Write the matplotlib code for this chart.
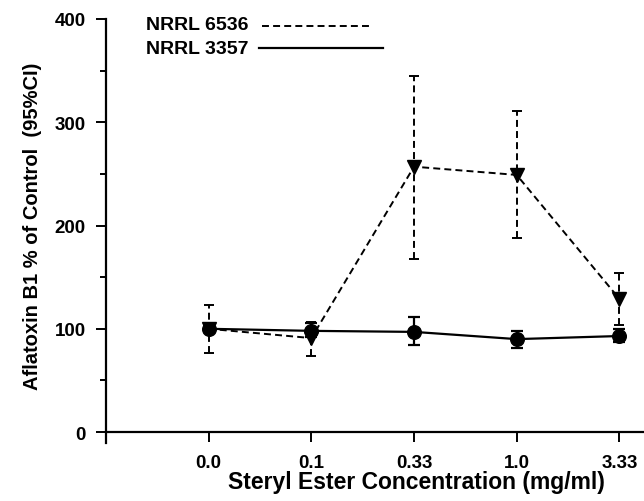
import matplotlib
matplotlib.use("Agg")
import matplotlib.pyplot as plt
from matplotlib.lines import Line2D
import numpy as np

plt.rcParams['font.family'] = ['Liberation Sans', 'DejaVu Sans']
plt.rcParams['font.weight'] = 'bold'
plt.rcParams['lines.scale_dashes'] = False

# ---- data ----
x_labels = ['0.0', '0.1', '0.33', '1.0', '3.33']
series_names = ['NRRL 6536', 'NRRL 3357']
n6536 = [100, 91, 257, 249, 129]
n6536_lo = [77, 74, 168, 188, 104]
n6536_hi = [123, 107, 345, 311, 154]
n3357 = [100, 98, 97, 90, 93]
n3357_lo = [97, 92, 84, 81, 87]
n3357_hi = [103, 106, 111, 98, 100]
y_major = [0, 100, 200, 300, 400]
y_minor = [50, 150, 250, 350]

W, H = 644, 502
fig = plt.figure(figsize=(W / 100, H / 100), dpi=100)
ax = fig.add_axes([106 / W, (H - 444) / H, (W - 106) / W, (444 - 20) / H])

xpos = np.arange(len(x_labels))
DASH = (5, 3)

def draw(vals, lo, hi, marker, dashed):
    vals = np.array(vals, float)
    yerr = np.vstack([vals - np.array(lo), np.array(hi) - vals])
    lw = 1.4 if dashed else 1.6
    line, caps, bars = ax.errorbar(
        xpos, vals, yerr=yerr, color='black', marker=marker, markersize=9.8,
        linewidth=lw, elinewidth=lw, capsize=3.5 if dashed else 4,
        capthick=lw, clip_on=False, zorder=3)
    if dashed:
        line.set_dashes(DASH)
        for b in bars:
            b.set_linestyle((0, DASH))

draw(n6536, n6536_lo, n6536_hi, 'v', True)
draw(n3357, n3357_lo, n3357_hi, 'o', False)

ax.set_xlim(-1, 4.24)
ax.set_ylim(-10.6, 400)
ax.spines['top'].set_visible(False)
ax.spines['right'].set_visible(False)
ax.spines['bottom'].set_position(('data', 0))
ax.spines['left'].set_linewidth(1.6)
ax.spines['bottom'].set_linewidth(1.6)

TICK_FS = 13.5
ax.set_xticks(xpos)
ax.set_xticklabels(x_labels, fontsize=TICK_FS, fontweight='bold')
ax.set_yticks(y_major)
ax.set_yticklabels([str(v) for v in y_major], fontsize=TICK_FS, fontweight='bold')
ax.set_yticks(y_minor, minor=True)
ax.tick_params(axis='x', direction='out', length=7.5, width=1.4, pad=8)
ax.tick_params(axis='y', which='major', direction='out', length=7.5, width=1.4, pad=7)
ax.tick_params(axis='y', which='minor', direction='out', length=4.5, width=1.4)

fig.text(416 / W, 1 - 483 / H, 'Steryl Ester Concentration (mg/ml)',
         ha='center', va='center', fontsize=16.5, fontweight='bold')
fig.text(33 / W, 1 - 226 / H, 'Aflatoxin B1 % of Control  (95%CI)',
         ha='center', va='center', rotation=90, fontsize=14.5, fontweight='bold')

# legend (manual)
fig.text(146 / W, 1 - 26 / H, series_names[0], ha='left', va='center',
         fontsize=14, fontweight='bold')
fig.text(146 / W, 1 - 50 / H, series_names[1], ha='left', va='center',
         fontsize=14, fontweight='bold')
fig.add_artist(Line2D([262 / W, 372 / W], [1 - 27 / H, 1 - 27 / H],
                      color='black', linewidth=1.4, dashes=DASH))
fig.add_artist(Line2D([259 / W, 383 / W], [1 - 49 / H, 1 - 49 / H],
                      color='black', linewidth=1.6))

fig.savefig('out.png', dpi=100)
